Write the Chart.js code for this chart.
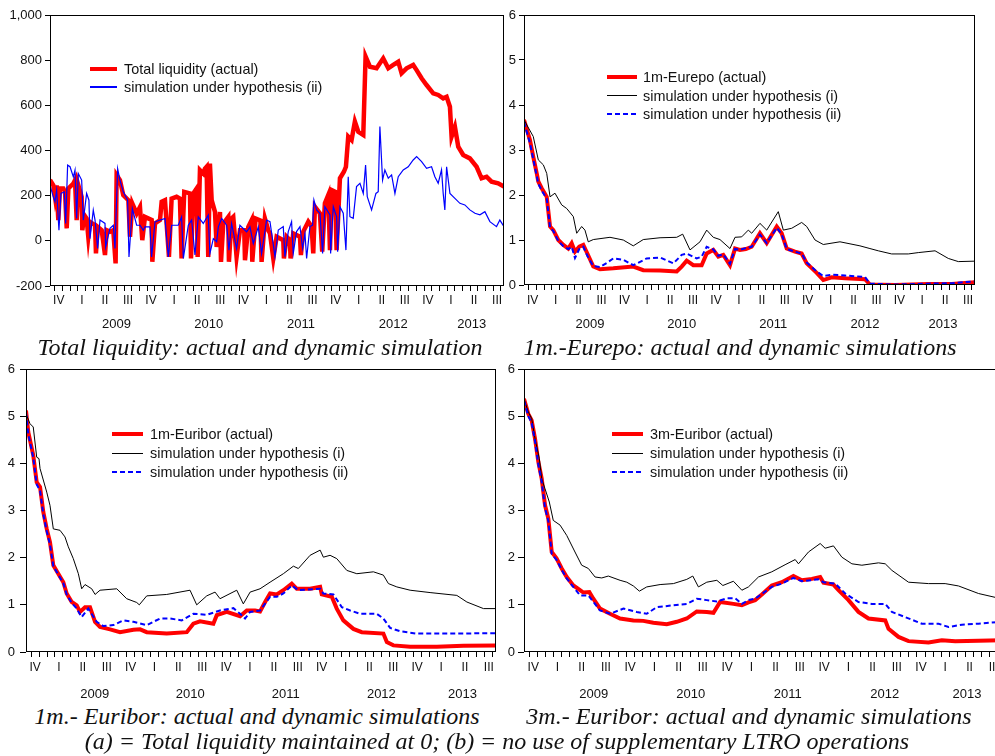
<!DOCTYPE html>
<html lang="en">

<head>
  <meta charset="UTF-8">
  <title>Liquidity and money market rates: actual and dynamic simulations</title>
  <script src="https://cdn.jsdelivr.net/npm/chart.js"></script>
  <style>
    body {
      margin: 0;
      background: #fff;
      overflow: hidden;
      width: 995px;
      height: 756px;
      position: relative;
    }

    canvas {
      position: absolute;
    }

    .caption {
      position: absolute;
      font: italic 24px "Liberation Serif", "Times New Roman", serif;
      line-height: 26px;
      color: #111;
      white-space: nowrap;
      transform: translateX(-50%);
    }

    .legend {
      position: absolute;
      font: 14.4px "Liberation Sans", Arial, sans-serif;
      color: #111;
      white-space: nowrap;
    }

    .legend .row {
      display: flex;
      align-items: center;
    }

    .legend .sample {
      display: inline-block;
    }
  </style>
</head>

<body>
  <canvas id="liquidity" width="510" height="335" style="left:0;top:0"></canvas>
  <canvas id="eurepo" width="495" height="335" style="left:500px;top:0"></canvas>
  <canvas id="euribor1m" width="500" height="345" style="left:0;top:355px"></canvas>
  <canvas id="euribor3m" width="505" height="345" style="left:500px;top:355px"></canvas>

  <div class="caption" style="left:260px;top:334px">Total liquidity: actual and dynamic simulation</div>
  <div class="caption" style="left:740px;top:334px">1m.-Eurepo: actual and dynamic simulations</div>
  <div class="caption" style="left:257px;top:703px">1m.- Euribor: actual and dynamic simulations</div>
  <div class="caption" style="left:749px;top:703px">3m.- Euribor: actual and dynamic simulations</div>
  <div class="caption" style="left:497px;top:728px">(a) = Total liquidity maintained at 0; (b) = no use of supplementary LTRO operations</div>

  <script>
    // x axis runs in decimal years, mid Oct 2008 to Sep 2013
    const xMin = 2008.78;
    const xMax = 2013.70;
    const quarterNames = ['I', 'II', 'III', 'IV'];
    const yearLabels = [2009, 2010, 2011, 2012, 2013];

    // Total liquidity (bn EUR)
    const liqActualDates = [2008.78, 2008.816, 2008.834, 2008.852, 2008.870, 2008.888, 2008.924, 2008.943, 2008.961, 2008.979,
      2009.033, 2009.051, 2009.069, 2009.087, 2009.123, 2009.130, 2009.152, 2009.177, 2009.195, 2009.213,
      2009.268, 2009.278, 2009.296, 2009.340, 2009.376, 2009.394, 2009.430, 2009.466, 2009.491, 2009.502,
      2009.538, 2009.574, 2009.629, 2009.647, 2009.672, 2009.719, 2009.755, 2009.780, 2009.809, 2009.882,
      2009.889, 2009.918, 2009.972, 2009.990, 2010.026, 2010.069, 2010.098, 2010.152, 2010.188, 2010.206,
      2010.235, 2010.297, 2010.308, 2010.333, 2010.369, 2010.380, 2010.405, 2010.441, 2010.459, 2010.477,
      2010.495, 2010.513, 2010.532, 2010.568, 2010.586, 2010.622, 2010.633, 2010.658, 2010.712, 2010.719,
      2010.748, 2010.766, 2010.802, 2010.839, 2010.885, 2010.893, 2010.929, 2010.965, 2010.972, 2011.008,
      2011.060, 2011.073, 2011.109, 2011.145, 2011.164, 2011.200, 2011.236, 2011.308, 2011.315, 2011.344,
      2011.380, 2011.387, 2011.416, 2011.489, 2011.499, 2011.525, 2011.579, 2011.615, 2011.633, 2011.651,
      2011.705, 2011.730, 2011.759, 2011.796, 2011.814, 2011.832, 2011.868, 2011.886, 2011.922, 2011.965,
      2011.987, 2012.012, 2012.048, 2012.084, 2012.121, 2012.175, 2012.200, 2012.247, 2012.319, 2012.391,
      2012.446, 2012.500, 2012.554, 2012.590, 2012.644, 2012.716, 2012.753, 2012.807, 2012.861, 2012.933,
      2012.987, 2013.041, 2013.078, 2013.114, 2013.132, 2013.168, 2013.204, 2013.258, 2013.330, 2013.403,
      2013.457, 2013.511, 2013.565, 2013.637, 2013.700];
    const liqActual = [269, 246, 195, 246, 92, 232, 232, 217, 55, 232,
      254, 269, 92, 246, 195, 47, 114, 99, 18, 84,
      69, -56, 62, 47, -63, 47, 40, 47, -100, 291,
      269, 202, 180, 18, 165, 121, 150, 3, 106, 92,
      -93, 77, 92, 173, 180, -71, 187, 195, 187, -78,
      217, 210, -78, 210, 232, -71, 313, 298, 320, 328,
      -71, 342, 180, 128, -27, 128, -93, 77, 106, -93,
      99, 106, -71, 47, 47, -86, 62, 92, -93, 99,
      90, -93, 99, 47, 33, -78, 18, 3, -78, 18,
      3, -78, 33, 18, -63, 41, 85, 63, -56, 151,
      122, -48, 166, 203, -41, 225, 218, -41, 277, 306,
      328, 461, 446, 528, 483, 469, 816, 771, 764, 808,
      764, 779, 793, 742, 764, 779, 756, 720, 690, 653,
      646, 631, 638, 594, 461, 505, 417, 380, 365, 328,
      277, 284, 262, 255, 240];

    const liqSimDates = [2008.78, 2008.816, 2008.834, 2008.852, 2008.877, 2008.899, 2008.935, 2008.950, 2008.971, 2008.997,
      2009.033, 2009.051, 2009.069, 2009.087, 2009.123, 2009.141, 2009.177, 2009.202, 2009.213, 2009.249,
      2009.268, 2009.296, 2009.322, 2009.376, 2009.383, 2009.430, 2009.466, 2009.484, 2009.513, 2009.538,
      2009.574, 2009.621, 2009.636, 2009.672, 2009.719, 2009.755, 2009.791, 2009.809, 2009.863, 2009.881,
      2009.918, 2009.972, 2010.026, 2010.062, 2010.098, 2010.170, 2010.206, 2010.225, 2010.279, 2010.315,
      2010.351, 2010.387, 2010.441, 2010.495, 2010.513, 2010.550, 2010.586, 2010.604, 2010.640, 2010.694,
      2010.719, 2010.748, 2010.802, 2010.838, 2010.893, 2010.911, 2010.947, 2010.983, 2011.037, 2011.073,
      2011.127, 2011.164, 2011.218, 2011.254, 2011.308, 2011.326, 2011.362, 2011.398, 2011.416, 2011.452,
      2011.489, 2011.517, 2011.543, 2011.561, 2011.597, 2011.626, 2011.640, 2011.669, 2011.705, 2011.734,
      2011.759, 2011.814, 2011.821, 2011.850, 2011.886, 2011.897, 2011.922, 2011.958, 2011.987, 2012.012,
      2012.030, 2012.066, 2012.102, 2012.139, 2012.175, 2012.200, 2012.218, 2012.265, 2012.312, 2012.337,
      2012.355, 2012.384, 2012.409, 2012.446, 2012.482, 2012.518, 2012.554, 2012.608, 2012.662, 2012.716,
      2012.753, 2012.807, 2012.861, 2012.915, 2012.951, 2012.987, 2013.023, 2013.041, 2013.059, 2013.078,
      2013.114, 2013.168, 2013.222, 2013.276, 2013.330, 2013.385, 2013.439, 2013.493, 2013.547, 2013.619,
      2013.655, 2013.700];
    const liqSim = [246, 195, 173, 224, 47, 210, 217, 77, 335, 328,
      283, 313, 99, 298, 269, 92, 210, 180, 10, 136,
      92, -34, 92, 77, -27, 55, 69, -34, 320, 269,
      217, 180, -71, 143, 69, 69, 47, 62, 62, -71,
      84, 92, 99, -71, 69, 69, 106, -78, 69, 92,
      -63, 106, 77, 114, -56, 10, -4, 62, 99, 69,
      -41, 77, -34, 69, 47, 40, 62, -12, 62, -56,
      92, 85, -70, 48, 63, -70, 41, 85, -56, 41,
      63, -33, 33, -78, 63, 70, 181, 137, 122, -56,
      151, 115, -56, 151, 107, -48, 151, 122, -41, 284,
      107, 100, 240, 255, 210, 336, 196, 137, 210, 218,
      506, 269, 314, 277, 292, 210, 284, 314, 328, 358,
      373, 351, 321, 328, 284, 255, 314, 210, 137, 328,
      210, 188, 166, 159, 137, 122, 115, 129, 85, 63,
      92, 63];

    // 1m Eurepo (%)
    const eurepoDates = [2008.78, 2008.845, 2008.881, 2008.919, 2008.936, 2008.973, 2009.028, 2009.064, 2009.100, 2009.154,
      2009.209, 2009.263, 2009.300, 2009.336, 2009.383, 2009.427, 2009.471, 2009.536, 2009.609, 2009.754,
      2009.972, 2010.081, 2010.264, 2010.446, 2010.500, 2010.555, 2010.627, 2010.718, 2010.773, 2010.845,
      2010.900, 2010.954, 2011.027, 2011.082, 2011.136, 2011.200, 2011.264, 2011.354, 2011.428, 2011.537,
      2011.591, 2011.646, 2011.736, 2011.809, 2011.864, 2011.973, 2012.045, 2012.137, 2012.282, 2012.500,
      2012.554, 2012.827, 2013.190, 2013.446, 2013.700];
    const eurepoActual = [3.67, 3.22, 2.85, 2.48, 2.30, 2.15, 1.96, 1.30, 1.22, 1.00,
      0.89, 0.81, 0.93, 0.74, 0.85, 0.89, 0.70, 0.41, 0.35, 0.37,
      0.41, 0.33, 0.32, 0.30, 0.41, 0.54, 0.44, 0.44, 0.70, 0.78,
      0.63, 0.67, 0.44, 0.81, 0.78, 0.80, 0.85, 1.15, 0.93, 1.30,
      1.15, 0.81, 0.74, 0.70, 0.48, 0.27, 0.11, 0.17, 0.15, 0.13,
      0.01, 0.00, 0.02, 0.02, 0.06];

    const eurepoSimADates = [2008.78, 2008.881, 2008.936, 2008.991, 2009.028, 2009.064, 2009.118, 2009.191, 2009.246, 2009.318,
      2009.355, 2009.409, 2009.445, 2009.481, 2009.536, 2009.718, 2009.863, 2009.972, 2010.081, 2010.264,
      2010.446, 2010.511, 2010.591, 2010.700, 2010.773, 2010.845, 2010.918, 2011.027, 2011.082, 2011.155,
      2011.227, 2011.264, 2011.354, 2011.428, 2011.554, 2011.609, 2011.700, 2011.809, 2011.864, 2011.955,
      2012.045, 2012.227, 2012.445, 2012.554, 2012.645, 2012.791, 2012.972, 2013.081, 2013.264, 2013.409,
      2013.518, 2013.700];
    const eurepoSimA = [3.67, 3.30, 2.78, 2.67, 2.48, 1.96, 2.04, 1.78, 1.70, 1.52,
      1.15, 1.30, 1.22, 0.96, 1.01, 1.06, 1.00, 0.87, 1.01, 1.05,
      1.06, 1.13, 0.78, 0.96, 1.22, 1.06, 1.01, 0.81, 1.06, 1.07,
      1.22, 1.15, 1.37, 1.22, 1.63, 1.22, 1.26, 1.39, 1.30, 1.00,
      0.90, 0.96, 0.87, 0.81, 0.76, 0.69, 0.69, 0.72, 0.76, 0.59,
      0.52, 0.53];

    const eurepoSimBDates = [2008.78, 2008.845, 2008.881, 2008.919, 2008.936, 2008.973, 2009.028, 2009.064, 2009.100, 2009.154,
      2009.209, 2009.263, 2009.300, 2009.336, 2009.383, 2009.427, 2009.471, 2009.536, 2009.609, 2009.690,
      2009.754, 2009.863, 2009.972, 2010.080, 2010.118, 2010.264, 2010.410, 2010.500, 2010.555, 2010.664,
      2010.718, 2010.773, 2010.845, 2010.900, 2010.954, 2011.027, 2011.082, 2011.136, 2011.200, 2011.264,
      2011.354, 2011.428, 2011.537, 2011.591, 2011.646, 2011.736, 2011.809, 2011.864, 2011.973, 2012.045,
      2012.137, 2012.282, 2012.500, 2012.554, 2012.827, 2013.190, 2013.446, 2013.700];
    const eurepoSimB = [3.62, 3.15, 2.80, 2.42, 2.25, 2.10, 1.92, 1.28, 1.20, 0.98,
      0.86, 0.80, 0.85, 0.60, 0.80, 0.85, 0.65, 0.42, 0.40, 0.50,
      0.59, 0.56, 0.44, 0.55, 0.59, 0.61, 0.48, 0.67, 0.70, 0.59,
      0.63, 0.85, 0.79, 0.65, 0.68, 0.47, 0.80, 0.78, 0.82, 0.85,
      1.12, 0.93, 1.27, 1.13, 0.80, 0.74, 0.70, 0.50, 0.30, 0.20,
      0.23, 0.21, 0.18, 0.03, 0.01, 0.03, 0.04, 0.08];

    // 1m Euribor (%)
    const eur1Dates = [2008.78, 2008.804, 2008.856, 2008.892, 2008.927, 2008.961, 2008.997, 2009.031, 2009.066, 2009.118,
      2009.171, 2009.206, 2009.259, 2009.311, 2009.345, 2009.398, 2009.450, 2009.503, 2009.555, 2009.660,
      2009.764, 2009.904, 2009.974, 2010.044, 2010.253, 2010.463, 2010.532, 2010.602, 2010.741, 2010.777,
      2010.882, 2011.021, 2011.091, 2011.178, 2011.230, 2011.283, 2011.335, 2011.405, 2011.474, 2011.562,
      2011.615, 2011.754, 2011.859, 2011.876, 2011.981, 2012.033, 2012.102, 2012.207, 2012.295, 2012.521,
      2012.557, 2012.626, 2012.801, 2013.081, 2013.359, 2013.700];
    const eur1Actual = [5.12, 4.66, 4.17, 3.60, 3.50, 2.97, 2.61, 2.33, 1.84, 1.66,
      1.48, 1.24, 1.06, 0.99, 0.85, 0.95, 0.95, 0.64, 0.53, 0.48,
      0.42, 0.47, 0.48, 0.42, 0.39, 0.42, 0.60, 0.65, 0.60, 0.78,
      0.85, 0.76, 0.88, 0.88, 0.86, 1.06, 1.24, 1.22, 1.31, 1.45,
      1.34, 1.34, 1.38, 1.22, 1.17, 0.92, 0.67, 0.49, 0.42, 0.39,
      0.21, 0.14, 0.11, 0.11, 0.13, 0.14];

    const eur1SimADates = [2008.78, 2008.822, 2008.856, 2008.892, 2008.916, 2008.927, 2008.997, 2009.031, 2009.066, 2009.136,
      2009.188, 2009.223, 2009.275, 2009.328, 2009.363, 2009.398, 2009.468, 2009.503, 2009.555, 2009.730,
      2009.834, 2009.939, 2009.966, 2010.044, 2010.253, 2010.497, 2010.567, 2010.672, 2010.759, 2010.811,
      2010.986, 2011.055, 2011.126, 2011.230, 2011.335, 2011.474, 2011.579, 2011.631, 2011.754, 2011.859,
      2011.893, 2011.963, 2012.033, 2012.138, 2012.243, 2012.417, 2012.521, 2012.574, 2012.662, 2012.801,
      2013.010, 2013.290, 2013.395, 2013.569, 2013.700];
    const eur1SimA = [5.05, 4.84, 4.77, 4.13, 4.10, 3.89, 3.39, 3.11, 2.61, 2.58,
      2.44, 2.23, 1.98, 1.66, 1.34, 1.43, 1.34, 1.22, 1.31, 1.34,
      1.13, 1.05, 1.00, 1.19, 1.22, 1.31, 1.00, 1.19, 1.27, 1.13,
      1.31, 1.02, 1.27, 1.34, 1.48, 1.66, 1.82, 1.77, 2.05, 2.16,
      2.01, 2.05, 1.98, 1.73, 1.66, 1.70, 1.63, 1.45, 1.38, 1.31,
      1.26, 1.20, 1.06, 0.92, 0.92];

    const eur1SimBDates = [2008.78, 2008.804, 2008.856, 2008.892, 2008.927, 2008.961, 2008.997, 2009.031, 2009.066, 2009.118,
      2009.171, 2009.206, 2009.259, 2009.311, 2009.363, 2009.432, 2009.520, 2009.589, 2009.694, 2009.799,
      2009.904, 2010.044, 2010.183, 2010.288, 2010.410, 2010.532, 2010.672, 2010.811, 2010.951, 2011.021,
      2011.073, 2011.126, 2011.230, 2011.335, 2011.405, 2011.474, 2011.562, 2011.632, 2011.859, 2011.893,
      2011.998, 2012.086, 2012.173, 2012.277, 2012.452, 2012.521, 2012.592, 2012.696, 2012.871, 2013.220,
      2013.700];
    const eur1SimB = [5.08, 4.62, 4.12, 3.55, 3.42, 2.92, 2.56, 2.28, 1.82, 1.64,
      1.46, 1.22, 1.04, 0.92, 0.74, 0.92, 0.64, 0.55, 0.57, 0.67,
      0.64, 0.57, 0.71, 0.71, 0.67, 0.81, 0.79, 0.88, 0.93, 0.81,
      0.71, 0.85, 0.88, 1.17, 1.17, 1.24, 1.41, 1.31, 1.34, 1.24,
      1.22, 0.95, 0.88, 0.81, 0.81, 0.71, 0.51, 0.44, 0.39, 0.39,
      0.40];

    // 3m Euribor (%)
    const eur3Dates = [2008.78, 2008.824, 2008.859, 2008.894, 2008.928, 2008.963, 2008.997, 2009.031, 2009.066, 2009.117,
      2009.169, 2009.221, 2009.289, 2009.358, 2009.392, 2009.454, 2009.495, 2009.564, 2009.667, 2009.771,
      2009.908, 2010.011, 2010.114, 2010.253, 2010.356, 2010.459, 2010.562, 2010.665, 2010.734, 2010.803,
      2010.940, 2011.027, 2011.095, 2011.164, 2011.233, 2011.336, 2011.439, 2011.559, 2011.646, 2011.749,
      2011.835, 2011.869, 2011.972, 2012.024, 2012.127, 2012.230, 2012.333, 2012.506, 2012.540, 2012.643,
      2012.746, 2012.952, 2013.090, 2013.228, 2013.468, 2013.700];
    const eur3Actual = [5.37, 5.05, 4.91, 4.52, 4.03, 3.67, 3.11, 2.83, 2.12, 1.98,
      1.77, 1.59, 1.41, 1.31, 1.26, 1.27, 1.13, 0.92, 0.81, 0.71,
      0.67, 0.66, 0.62, 0.59, 0.64, 0.71, 0.86, 0.85, 0.83, 1.06,
      1.02, 0.99, 1.05, 1.10, 1.22, 1.41, 1.48, 1.61, 1.52, 1.55,
      1.59, 1.47, 1.43, 1.31, 1.10, 0.85, 0.71, 0.67, 0.49, 0.32,
      0.23, 0.20, 0.25, 0.23, 0.24, 0.25];

    const eur3SimADates = [2008.78, 2008.824, 2008.859, 2008.894, 2008.938, 2008.963, 2008.997, 2009.041, 2009.082, 2009.152,
      2009.221, 2009.306, 2009.375, 2009.444, 2009.513, 2009.582, 2009.650, 2009.771, 2009.840, 2009.908,
      2009.970, 2010.046, 2010.184, 2010.321, 2010.459, 2010.521, 2010.579, 2010.665, 2010.769, 2010.831,
      2010.940, 2011.027, 2011.095, 2011.198, 2011.336, 2011.473, 2011.577, 2011.611, 2011.714, 2011.835,
      2011.886, 2011.972, 2012.059, 2012.162, 2012.265, 2012.436, 2012.506, 2012.575, 2012.746, 2012.952,
      2013.124, 2013.262, 2013.468, 2013.700];
    const eur3SimA = [5.37, 5.09, 4.95, 4.52, 4.10, 3.67, 3.46, 3.18, 2.79, 2.69,
      2.47, 2.12, 1.84, 1.77, 1.59, 1.57, 1.61, 1.52, 1.48, 1.40,
      1.29, 1.38, 1.43, 1.45, 1.54, 1.61, 1.38, 1.48, 1.52, 1.41,
      1.50, 1.31, 1.38, 1.59, 1.70, 1.85, 1.96, 1.87, 2.12, 2.30,
      2.20, 2.25, 2.01, 1.87, 1.84, 1.89, 1.87, 1.73, 1.48, 1.45,
      1.45, 1.40, 1.24, 1.13];

    const eur3SimBDates = [2008.78, 2008.824, 2008.859, 2008.894, 2008.928, 2008.963, 2008.997, 2009.031, 2009.066, 2009.117,
      2009.169, 2009.221, 2009.289, 2009.358, 2009.444, 2009.564, 2009.667, 2009.805, 2009.943, 2010.046,
      2010.149, 2010.321, 2010.459, 2010.562, 2010.665, 2010.769, 2010.872, 2010.958, 2011.027, 2011.095,
      2011.164, 2011.336, 2011.439, 2011.559, 2011.646, 2011.817, 2011.869, 2011.990, 2012.093, 2012.230,
      2012.368, 2012.506, 2012.575, 2012.712, 2012.884, 2013.056, 2013.159, 2013.297, 2013.468, 2013.700];
    const eur3SimB = [5.33, 5.00, 4.86, 4.46, 3.97, 3.60, 3.05, 2.78, 2.08, 1.95,
      1.74, 1.56, 1.38, 1.20, 1.20, 0.88, 0.81, 0.92, 0.85, 0.81,
      0.95, 0.99, 1.02, 1.13, 1.10, 1.07, 1.14, 1.14, 1.02, 1.10,
      1.13, 1.38, 1.45, 1.57, 1.50, 1.54, 1.48, 1.45, 1.24, 1.06,
      1.02, 1.02, 0.85, 0.74, 0.60, 0.60, 0.53, 0.58, 0.60, 0.64];

    Chart.defaults.font.family = '"Liberation Sans", Arial, sans-serif';
    Chart.defaults.color = '#111';

    function points(xs, ys) {
      return xs.map((x, i) => ({ x: x, y: ys[i] }));
    }

    // monthly tick marks plus an unmarked tick in the middle of each quarter for the roman numeral
    function quarterTicks() {
      var ticks = [];
      for (var yr = 2008; yr <= 2013; yr++) {
        for (var m = 0; m < 12; m++) {
          var v = yr + m / 12;
          if (v > xMin && v < xMax) ticks.push({ value: v });
          if (m % 3 === 1) {
            var mid = yr + (m + 0.5) / 12;
            if (mid > xMin && mid < xMax) ticks.push({ value: mid, quarter: quarterNames[(m - 1) / 3] });
          }
        }
      }
      return ticks.sort((a, b) => a.value - b.value);
    }

    // year labels sit in the middle of the visible part of each year
    function yearTicks() {
      return yearLabels.map(yr => ({
        value: (Math.max(yr, xMin) + Math.min(yr + 1, xMax)) / 2,
        year: String(yr)
      }));
    }

    const frame = {
      id: 'frame',
      afterDatasetsDraw(chart) {
        var a = chart.chartArea, ctx = chart.ctx;
        ctx.save();
        ctx.strokeStyle = '#000';
        ctx.lineWidth = 1;
        ctx.strokeRect(Math.round(a.left) + 0.5, Math.round(a.top) + 0.5,
          Math.round(a.right - a.left) - 1, Math.round(a.bottom - a.top) - 1);
        ctx.restore();
      }
    };

    function makePanel(id, p) {
      var canvas = document.getElementById(id);
      var W = canvas.width, H = canvas.height, a = p.area;
      var chart = new Chart(canvas, {
        type: 'line',
        data: { datasets: p.datasets },
        options: {
          responsive: false,
          animation: false,
          layout: { padding: { left: 0, top: a.top, right: W - a.right, bottom: 0 } },
          plugins: { legend: { display: false }, tooltip: { enabled: false } },
          elements: { point: { radius: 0 }, line: { tension: 0 } },
          scales: {
            x: {
              type: 'linear', min: xMin, max: xMax,
              border: { display: false },
              grid: {
                drawOnChartArea: false, tickLength: 5,
                tickColor: ctx => (ctx.tick && ctx.tick.quarter) ? 'rgba(0,0,0,0)' : '#000'
              },
              ticks: {
                autoSkip: false, maxRotation: 0, padding: p.qPad, font: { size: 12 }, color: '#111',
                callback: (v, i, ticks) => ticks[i].quarter || ''
              },
              afterBuildTicks: s => { s.ticks = quarterTicks(); },
              afterFit: s => { s.height = 22; }
            },
            years: {
              type: 'linear', position: 'bottom', weight: 1, min: xMin, max: xMax,
              grid: { display: false }, border: { display: false },
              ticks: {
                autoSkip: false, maxRotation: 0, padding: p.yearPad, font: { size: 13 }, color: '#111',
                callback: (v, i, ticks) => ticks[i].year
              },
              afterBuildTicks: s => { s.ticks = yearTicks(); },
              afterFit: s => { s.height = H - a.bottom - 22; }
            },
            y: {
              min: p.yMin, max: p.yMax,
              border: { display: false },
              grid: { drawOnChartArea: false, tickLength: p.yTick, tickColor: '#000' },
              ticks: { stepSize: p.yStep, padding: p.yPad, font: { size: 13 }, color: '#111' },
              afterFit: s => { s.width = a.left; }
            }
          }
        },
        plugins: [frame]
      });
      addLegend(chart, p.legend);
      return chart;
    }

    function addLegend(chart, lg) {
      var box = document.createElement('div');
      box.className = 'legend';
      box.style.left = lg.x + 'px';
      box.style.top = (lg.y - lg.row / 2) + 'px';
      chart.data.datasets.forEach(ds => {
        var row = document.createElement('div');
        row.className = 'row';
        row.style.height = lg.row + 'px';
        var sample = document.createElement('span');
        sample.className = 'sample';
        sample.style.width = lg.sample + 'px';
        sample.style.marginRight = lg.gap + 'px';
        var w = ds.legendWidth || ds.borderWidth;
        sample.style.height = w + 'px';
        if (ds.borderDash) {
          sample.style.background = 'repeating-linear-gradient(90deg,' + ds.borderColor + ' 0 5px, transparent 5px 8px)';
        } else {
          sample.style.background = ds.borderColor;
        }
        row.appendChild(sample);
        row.appendChild(document.createTextNode(ds.label));
        box.appendChild(row);
      });
      document.body.appendChild(box);
    }

    function actualLine(label, xs, ys, width) {
      return { label: label, data: points(xs, ys), borderColor: '#ff0000', borderWidth: width, order: 3 };
    }
    function simALine(xs, ys) {
      return { label: 'simulation under hypothesis (i)', data: points(xs, ys), borderColor: '#000000', borderWidth: 1, order: 2 };
    }
    function simBLine(xs, ys) {
      return { label: 'simulation under hypothesis (ii)', data: points(xs, ys), borderColor: '#0000ff', borderWidth: 2, borderDash: [5, 3], order: 1 };
    }

    makePanel('liquidity', {
      area: { left: 50, top: 15, right: 504, bottom: 286 },
      yMin: -200, yMax: 1000, yStep: 200, yTick: 5, yPad: 3, qPad: 2, yearPad: 1,
      legend: { x: 90, y: 69, row: 18, sample: 27, gap: 7 },
      datasets: [
        actualLine('Total liquidity (actual)', liqActualDates, liqActual, 4.5),
        { label: 'simulation under hypothesis (ii)', data: points(liqSimDates, liqSim), borderColor: '#0000ff', borderWidth: 1.2, order: 1 }
      ]
    });

    makePanel('eurepo', {
      area: { left: 24, top: 15, right: 475, bottom: 285 },
      yMin: 0, yMax: 6, yStep: 1, yTick: 5, yPad: 3, qPad: 3, yearPad: 2,
      legend: { x: 607, y: 77, row: 18.5, sample: 30, gap: 6 },
      datasets: [
        actualLine('1m-Eurepo (actual)', eurepoDates, eurepoActual, 4),
        simALine(eurepoSimADates, eurepoSimA),
        simBLine(eurepoSimBDates, eurepoSimB)
      ]
    });

    makePanel('euribor1m', {
      area: { left: 26, top: 14, right: 496, bottom: 297 },
      yMin: 0, yMax: 6, yStep: 1, yTick: 6, yPad: 5, qPad: 3, yearPad: 5,
      legend: { x: 112, y: 434, row: 19, sample: 31, gap: 7 },
      datasets: [
        actualLine('1m-Euribor (actual)', eur1Dates, eur1Actual, 4),
        simALine(eur1SimADates, eur1SimA),
        simBLine(eur1SimBDates, eur1SimB)
      ]
    });

    makePanel('euribor3m', {
      area: { left: 24, top: 14, right: 501, bottom: 297 },
      yMin: 0, yMax: 6, yStep: 1, yTick: 6, yPad: 3, qPad: 3, yearPad: 5,
      legend: { x: 612, y: 434, row: 19, sample: 31, gap: 7 },
      datasets: [
        actualLine('3m-Euribor (actual)', eur3Dates, eur3Actual, 4),
        simALine(eur3SimADates, eur3SimA),
        simBLine(eur3SimBDates, eur3SimB)
      ]
    });
  </script>
</body>

</html>
